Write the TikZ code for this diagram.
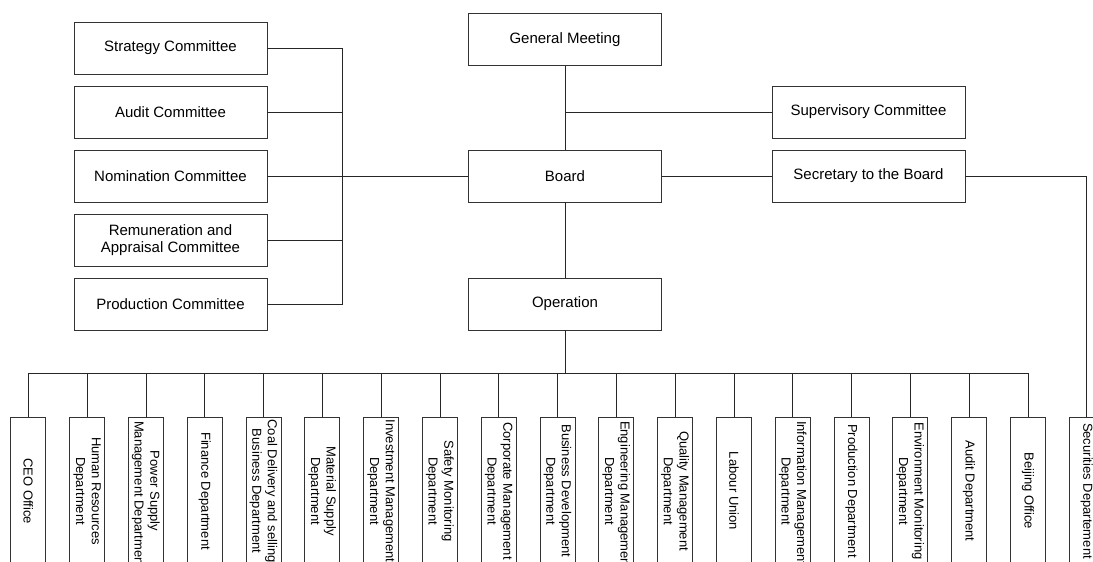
\documentclass[tikz,border=0pt]{standalone}
\usepackage{fontspec}
\setmainfont{Liberation Sans}
\newcommand\dln[1]{\setbox0\hbox{#1}\ifdim\wd0>144pt\makebox[144pt][l]{\hspace{2pt}#1}\else\makebox[144pt]{#1}\fi}
\begin{document}
\begin{tikzpicture}[x=1pt,y=-1pt,
  line width=0.8pt, draw=black!85,
  box/.style={draw=black!80, line width=0.8pt, minimum width=193pt, minimum height=52pt,
    inner sep=2pt, align=center, font=\fontsize{15}{17.3}\selectfont},
  dept/.style={draw=black!80, line width=0.8pt, rotate=-90, minimum width=148pt, minimum height=35pt,
    inner sep=1pt, align=center, font=\fontsize{13}{15.6}\selectfont},
  conn/.style={draw=black!85, line width=0.8pt}]
\useasboundingbox (0,0) rectangle (1093,562);

% committees
\node[box] (strat) at (170.5,48) {Strategy Committee};
\node[box] (audit) at (170.5,112) {Audit Committee};
\node[box] (nom) at (170.5,176) {Nomination Committee};
\node[box] (rem) at (170.5,240) {Remuneration and\\Appraisal Committee};
\node[box] (prod) at (170.5,304) {Production Committee};

% centre column
\node[box] (gm) at (565,39.5) {General Meeting};
\node[box] (board) at (565,176) {Board};
\node[box] (op) at (565,304) {Operation};
\node[box] (sup) at (868.5,112) {Supervisory Committee};
\node[box] (sec) at (868.5,176) {Secretary to the Board};

% departments
\foreach \i/\t in {
  0/{\dln{CEO Office}},
  1/{\dln{Human Resources}\\\dln{Department}},
  2/{\dln{Power Supply}\\\dln{Management Department}},
  3/{\dln{Finance Department}},
  4/{\dln{Coal Delivery and selling}\\\dln{Business Department}},
  5/{\dln{Material Supply}\\\dln{Department}},
  6/{\dln{Investment Management}\\\dln{Department}},
  7/{\dln{Safety Monitoring}\\\dln{Department}},
  8/{\dln{Corporate Management}\\\dln{Department}},
  9/{\dln{Business Development}\\\dln{Department}},
  10/{\dln{Engineering Management}\\\dln{Department}},
  11/{\dln{Quality Management}\\\dln{Department}},
  12/{\dln{Labour Union}},
  13/{\dln{Information Management}\\\dln{Department}},
  14/{\dln{Production Department}},
  15/{\dln{Environment Monitoring}\\\dln{Department}},
  16/{\dln{Audit Department}},
  17/{\dln{Beijing Office}},
  18/{\dln{Securities Departement}}}
  \node[dept] (d\i) at ({28.3+58.8*\i},491) {\t};

% committee bus
\coordinate (cbt) at (342,48);
\coordinate (cbb) at (342,304);
\draw[conn] (strat.east) -- (cbt) -- (cbb) -- (prod.east);
\draw[conn] (audit.east) -- (audit.east -| cbt);
\draw[conn] (rem.east) -- (rem.east -| cbt);
\draw[conn] (nom.east) -- (board.west);

% centre connectors
\draw[conn] (gm.south) -- (board.north);
\draw[conn] (sup.west) -- (sup.west -| gm.south);
\draw[conn] (board.east) -- (sec.west);
\draw[conn] (board.south) -- (op.north);
\draw[conn] (sec.east) -| (d18.west);

% department bus
\coordinate (bus) at (565,373);
\draw[conn] (op.south) -- (bus);
\draw[conn] (d0.west |- bus) -- (d17.west |- bus);
\foreach \i in {0,...,17}
  \draw[conn] (d\i.west |- bus) -- (d\i.west);
\end{tikzpicture}
\end{document}
